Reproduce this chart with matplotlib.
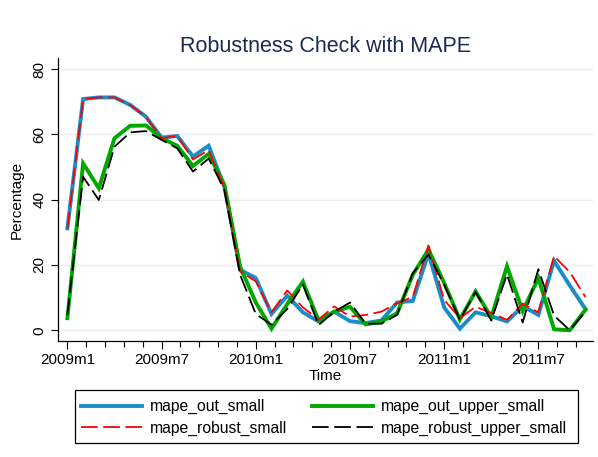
import matplotlib
matplotlib.use("Agg")
import matplotlib.pyplot as plt
from matplotlib.ticker import FixedLocator
from matplotlib.patches import Rectangle
import numpy as np

plt.rcParams['font.family'] = ['Liberation Sans', 'DejaVu Sans']
plt.rcParams['lines.scale_dashes'] = False

# Monthly periods 2009m1 .. 2011m10 (index 0 = 2009m1)
months = list(range(34))
tick_months = [0, 6, 12, 18, 24, 30]
tick_labels = ["2009m1", "2009m7", "2010m1", "2010m7", "2011m1", "2011m7"]
y_ticks = [0, 20, 40, 60, 80]

mape_out_small = [31.2, 70.8, 71.3, 71.3, 69.0, 65.4, 59.0, 59.5, 53.2, 56.5,
                  44.0, 18.5, 16.0, 5.0, 10.6, 5.5, 2.7, 5.7, 2.8, 2.2,
                  3.0, 8.5, 9.0, 23.5, 7.0, 0.5, 5.5, 4.3, 2.7, 7.4,
                  4.7, 21.3, 13.7, 6.5]
mape_out_upper_small = [3.7, 51.1, 43.5, 58.8, 62.6, 62.7, 58.8, 56.5, 50.3, 54.0,
                        44.5, 19.5, 8.5, 0.5, 8.0, 14.9, 3.0, 5.7, 7.2, 1.8,
                        2.7, 5.2, 17.0, 24.7, 14.5, 3.3, 11.9, 4.0, 19.6, 5.9,
                        16.0, 0.3, 0.0, 6.3]
mape_robust_small = [31.2, 70.8, 71.3, 71.3, 69.0, 65.4, 58.8, 59.5, 52.3, 55.2,
                     43.5, 18.0, 15.0, 5.5, 12.2, 7.0, 3.3, 7.3, 4.2, 4.7,
                     5.7, 8.3, 10.2, 26.0, 9.3, 3.7, 7.2, 5.3, 3.2, 8.2,
                     5.5, 22.7, 17.8, 10.2]
mape_robust_upper_small = [4.7, 47.0, 39.9, 56.2, 60.6, 61.0, 58.3, 55.7, 48.6, 52.6,
                           43.0, 17.0, 5.0, 1.7, 6.5, 14.0, 1.6, 5.7, 8.5, 2.0,
                           2.0, 4.7, 17.5, 23.2, 14.0, 3.2, 11.8, 3.0, 17.1, 2.4,
                           18.7, 4.5, 0.0, 5.8]

W, H = 598, 457
fig = plt.figure(figsize=(W / 100, H / 100), dpi=100)
fig.patch.set_facecolor('white')

left, right, top, bottom = 57.5, 593, 58, 341
ax = fig.add_axes([left / W, 1 - bottom / H, (right - left) / W, (bottom - top) / H])
ax.set_facecolor('white')

blue = '#1a8dc8'
green = '#00a800'
red = '#ff0000'
black = '#000000'
dash = (0, (12, 4))

l1, = ax.plot(months, mape_out_small, color=blue, lw=2.8, solid_joinstyle='miter', zorder=3)
l2, = ax.plot(months, mape_out_upper_small, color=green, lw=2.8, solid_joinstyle='miter', zorder=4)
l3, = ax.plot(months, mape_robust_small, color=red, lw=1.3, linestyle=dash, zorder=5)
l4, = ax.plot(months, mape_robust_upper_small, color=black, lw=1.3, linestyle=dash, zorder=6)

ax.set_xlim(-0.63, 33.48)
ax.set_ylim(-3.28, 83.37)

ax.set_yticks(y_ticks)
ax.set_yticklabels([str(v) for v in y_ticks], rotation=90, va='center', fontsize=11)
ax.grid(axis='y', color='#e6eef0', lw=1.0, zorder=0)

ax.set_xticks(tick_months)
ax.set_xticklabels(tick_labels, fontsize=11)
minor = [m for m in np.arange(0, 33.5, 1.2) if abs(m / 6 - round(m / 6)) > 1e-6]
ax.xaxis.set_minor_locator(FixedLocator(minor))
ax.tick_params(axis='x', which='major', length=6, width=0.8, pad=3)
ax.tick_params(axis='x', which='minor', length=4, width=0.8)
ax.tick_params(axis='y', which='major', length=5, width=0.8, pad=3)

for s in ['top', 'right']:
    ax.spines[s].set_visible(False)
for s in ['left', 'bottom']:
    ax.spines[s].set_linewidth(0.9)
    ax.spines[s].set_color('#000000')

ax.set_xlabel('Time', fontsize=11, labelpad=1)
ax.set_ylabel('Percentage', fontsize=11, labelpad=6)

fig.text(325 / W, 1 - 46 / H, 'Robustness Check with MAPE', ha='center', va='center',
         fontsize=15.5, color='#1a2a50')

# legend frame (asymmetric padding like the reference)
fig.patches.append(Rectangle((75 / W, 1 - 443 / H), 503 / W, 53 / H,
                             transform=fig.transFigure, facecolor='white',
                             edgecolor='#000000', linewidth=0.9, zorder=1))

handles = [l1, l3, l2, l4]
labels = ['mape_out_small', 'mape_robust_small', 'mape_out_upper_small', 'mape_robust_upper_small']
leg = fig.legend(handles, labels, ncol=2, loc='center left',
                 bbox_to_anchor=(80.5 / W, 1 - 417.5 / H),
                 fontsize=11.3, frameon=False,
                 handlelength=3.9, handletextpad=0.5, columnspacing=1.6,
                 labelspacing=0.42, borderpad=0, borderaxespad=0)
leg.set_zorder(2)

fig.savefig('out.png', dpi=100, facecolor='white')
